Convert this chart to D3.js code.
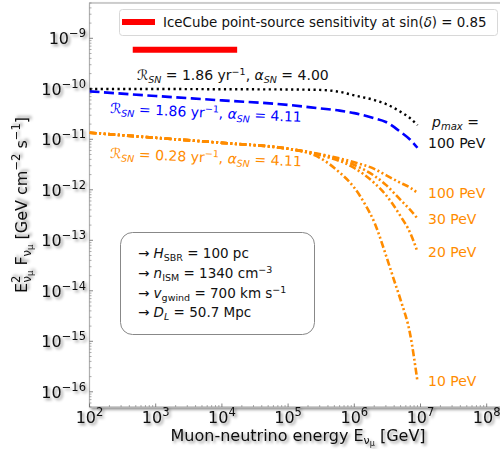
<!DOCTYPE html>
<html><head><meta charset="utf-8">
<script src="https://cdn.jsdelivr.net/npm/d3@7"></script>
<style>body{margin:0;background:#fff}svg{display:block;font-family:"DejaVu Sans",sans-serif}</style>
</head><body><svg id="c" width="500" height="449"></svg>
<script>
// ---------- data ----------
const xTicks = [1e2,1e3,1e4,1e5,1e6,1e7,1e8];
const xTickExp = ["2","3","4","5","6","7","8"];
const yTicks = [1e-9,1e-10,1e-11,1e-12,1e-13,1e-14,1e-15,1e-16];
const yTickExp = ["−9","−10","−11","−12","−13","−14","−15","−16"];

const iceE = [450, 1.7e4];
const iceF = [5.9e-10, 5.9e-10];

const blackE = [1e2,1e3,1e4,1e5,3e5,6e5,1e6,2e6,3e6,5e6,7e6,9e6];
const blackF = [9.9e-11,9.9e-11,9.8e-11,9.7e-11,9.5e-11,8.7e-11,7.4e-11,6.0e-11,5.0e-11,3.5e-11,2.6e-11,1.9e-11];

const blueE = [1e2,1e3,1e4,1e5,3e5,6e5,1e6,2e6,3e6,5e6,7e6,9e6];
const blueF = [8.9e-11,7.2e-11,5.9e-11,4.8e-11,4.1e-11,3.7e-11,3.3e-11,2.6e-11,2.2e-11,1.4e-11,9.8e-12,6.8e-12];

const orE = [1e2,1e3,1e4,1e5,3e5,1e6,2e6,3e6,5e6,7e6,9e6];
const or100F = [1.35e-11,1.07e-11,8.5e-12,6.5e-12,5.1e-12,3.5e-12,2.6e-12,1.95e-12,1.37e-12,1.1e-12,8.7e-13];
const or30F  = [1.35e-11,1.07e-11,8.5e-12,6.5e-12,5.0e-12,3.1e-12,1.9e-12,1.25e-12,6.3e-13,4.0e-13,2.7e-13];
const or20F  = [1.35e-11,1.07e-11,8.5e-12,6.5e-12,4.9e-12,2.7e-12,1.37e-12,7.9e-13,3.0e-13,1.4e-13,5.9e-14];
const or10E  = [1e2,1e3,1e4,1e5,3e5,6e5,1e6,1.5e6,2e6,3e6,4e6,5e6,7e6,9e6];
const or10F  = [1.35e-11,1.07e-11,8.5e-12,6.5e-12,4.3e-12,2.2e-12,1.1e-12,4.8e-13,2.3e-13,5.1e-14,1.6e-14,6.6e-15,1.35e-15,1.6e-16];

const pmaxLabels = ["100 PeV","30 PeV","20 PeV","10 PeV"];

// ---------- layout ----------
const L = 89.5, T = 3, B = 407;
const x = d3.scaleLog().domain([1e2, 2e8]).range([L, L + Math.log10(2e8/1e2)*66.2]);
const y = d3.scaleLog().domain([5e-17, 5e-9]).range([B, T]);
const R = x.range()[1];

const svg = d3.select("#c");
const defs = svg.append("defs");
const f = defs.append("filter").attr("id","sh").attr("x","-20%").attr("y","-20%").attr("width","140%").attr("height","140%");
f.append("feGaussianBlur").attr("in","SourceAlpha").attr("stdDeviation",1.4).attr("result","b");
f.append("feOffset").attr("in","b").attr("dx",1.8).attr("dy",1.8).attr("result","o");
f.append("feFlood").attr("flood-color","#000").attr("flood-opacity",0.45).attr("result","c");
f.append("feComposite").attr("in","c").attr("in2","o").attr("operator","in").attr("result","s");
const m = f.append("feMerge"); m.append("feMergeNode").attr("in","s"); m.append("feMergeNode").attr("in","SourceGraphic");
defs.append("clipPath").attr("id","clip").append("rect").attr("x",L).attr("y",T).attr("width",R-L).attr("height",B-T);

// axes background with shadow
svg.append("rect").attr("x",L).attr("y",T).attr("width",R-L).attr("height",B-T)
  .attr("fill","#fff").attr("stroke","#b0b0b0").attr("stroke-width",1.2).attr("filter","url(#sh)");

// rich text helper
function rich(sel, parts){
  let cur = 0;
  parts.forEach(p=>{
    const sh = p.sh||0;
    const t = sel.append("tspan").text(p.t).attr("dy", sh-cur);
    if(p.s) t.attr("font-size", p.s);
    if(p.it) t.attr("font-style","italic");
    if(p.dx) t.attr("dx", p.dx);
    cur = sh;
  });
  return sel;
}

// ticks
const g = svg.append("g");
const minorX = [];
for(let e=2;e<8;e++) for(let k=2;k<10;k++) minorX.push(k*Math.pow(10,e));
minorX.push(2e8);
g.selectAll(".mx").data(minorX).join("line").attr("x1",d=>x(d)).attr("x2",d=>x(d)).attr("y1",B).attr("y2",B-2).attr("stroke","#777").attr("stroke-width",0.6);
g.selectAll(".Mx").data(xTicks).join("line").attr("x1",d=>x(d)).attr("x2",d=>x(d)).attr("y1",B).attr("y2",B-3.5).attr("stroke","#666").attr("stroke-width",0.8);
const minorY = [];
for(let e=-17;e<-8;e++) for(let k=2;k<10;k++){const v=k*Math.pow(10,e); if(v>=5e-17&&v<=5e-9) minorY.push(v);}
g.selectAll(".my").data(minorY).join("line").attr("y1",d=>y(d)).attr("y2",d=>y(d)).attr("x1",L).attr("x2",L+2).attr("stroke","#777").attr("stroke-width",0.6);
g.selectAll(".My").data(yTicks).join("line").attr("y1",d=>y(d)).attr("y2",d=>y(d)).attr("x1",L).attr("x2",L+3.5).attr("stroke","#666").attr("stroke-width",0.8);

// tick labels
xTicks.forEach((v,i)=>{
  rich(svg.append("text").attr("x",x(v)).attr("y",423).attr("text-anchor","middle").attr("font-size",16).attr("fill","#111").attr("filter","url(#sh)"),
    [{t:"10"},{t:xTickExp[i],s:11.5,sh:-7}]);
});
yTicks.forEach((v,i)=>{
  rich(svg.append("text").attr("x",86).attr("y",y(v)+6).attr("text-anchor","end").attr("font-size",16).attr("fill","#111").attr("filter","url(#sh)"),
    [{t:"10"},{t:yTickExp[i],s:11.5,sh:-7}]);
});

// axis labels
rich(svg.append("text").attr("x",(L+R)/2).attr("y",441).attr("text-anchor","middle").attr("font-size",16).attr("fill","#111").attr("filter","url(#sh)"),
  [{t:"Muon-neutrino energy E"},{t:"ν",s:11,sh:3},{t:"μ",s:8,sh:4.5},{t:" [GeV]",sh:0}]);
rich(svg.append("text").attr("transform",`translate(27,${(T+B)/2}) rotate(-90)`).attr("text-anchor","middle").attr("font-size",16).attr("fill","#111").attr("filter","url(#sh)"),
  [{t:"E"},{t:"2",s:11.5,sh:-7},{t:"ν",s:11.5,sh:4,dx:-7},{t:"μ",s:8.5,sh:6},{t:" F",sh:0},{t:"ν",s:11.5,sh:4},{t:"μ",s:8.5,sh:6},{t:"  [GeV cm",sh:0},{t:"−2",s:11.5,sh:-7},{t:" s",sh:0},{t:"−1",s:11.5,sh:-7},{t:"]",sh:0}]);

// curves
const plot = svg.append("g").attr("clip-path","url(#clip)");
const line = d3.line().x(d=>x(d[0])).y(d=>y(d[1])).curve(d3.curveMonotoneX);
const zip = (a,b)=>a.map((v,i)=>[v,b[i]]);
plot.append("path").datum(zip(iceE,iceF)).attr("d",line).attr("stroke","#ff0000").attr("stroke-width",6).attr("fill","none");
const ddd = "7,2.6,2,2.6,2,2.6";
[[orE,or100F],[orE,or30F],[orE,or20F],[or10E,or10F]].forEach(s=>{
  plot.append("path").datum(zip(s[0],s[1])).attr("d",line).attr("stroke","#ff8c00").attr("stroke-width",2.6).attr("fill","none").attr("stroke-dasharray",ddd);
});
plot.append("path").datum(zip(blueE,blueF)).attr("d",line).attr("stroke","#0000ff").attr("stroke-width",2.6).attr("fill","none").attr("stroke-dasharray","10,4.5");
plot.append("path").datum(zip(blackE,blackF)).attr("d",line).attr("stroke","#000").attr("stroke-width",2.4).attr("fill","none").attr("stroke-dasharray","2.2,3.4");

// curve annotations
function snLabel(xp, yp, rot, color, rate, alpha){
  rich(svg.append("text").attr("transform",`translate(${xp},${yp}) rotate(${rot})`).attr("font-size",14).attr("fill",color),
    [{t:"ℛ",it:true},{t:"SN",s:9.5,sh:3,it:true},{t:" = "+rate+" yr",sh:0},{t:"−1",s:9.5,sh:-5.5},{t:", ",sh:0},{t:"α",it:true},{t:"SN",s:9.5,sh:3,it:true},{t:" = "+alpha,sh:0}]);
}
snLabel(137, 80, 0, "#111", "1.86", "4.00");
snLabel(110, 113, 2.7, "#0000ff", "1.86", "4.11");
snLabel(110, 158, 2.5, "#ff8c00", "0.28", "4.11");

rich(svg.append("text").attr("x",432).attr("y",127).attr("font-size",14).attr("fill","#111"),
  [{t:"p",it:true},{t:"max",s:10,sh:3,it:true},{t:" =",sh:0}]);
svg.append("text").attr("x",428).attr("y",148).attr("font-size",14).attr("fill","#111").text("100 PeV");
const pmaxEnds = [or100F[or100F.length-1], or30F[or30F.length-1], or20F[or20F.length-1], or10F[or10F.length-1]];
pmaxLabels.forEach((t,i)=>{
  svg.append("text").attr("x",428).attr("y",y(pmaxEnds[i])+5).attr("font-size",14).attr("fill","#ff8c00").text(t);
});

// legend
svg.append("rect").attr("x",119.5).attr("y",9.5).attr("width",378).attr("height",26).attr("rx",3).attr("fill","#fff").attr("fill-opacity",0.85).attr("stroke","#d8d8d8");
svg.append("line").attr("x1",122).attr("x2",155).attr("y1",22).attr("y2",22).attr("stroke","#ff0000").attr("stroke-width",6);
rich(svg.append("text").attr("x",163).attr("y",27).attr("font-size",13.4).attr("fill","#111"),
  [{t:"IceCube point-source sensitivity at sin("},{t:"δ",it:true},{t:") = 0.85"}]);

// parameter box
svg.append("rect").attr("x",120.5).attr("y",232.5).attr("width",194).attr("height",102).attr("rx",12).attr("fill","#fff").attr("stroke","#888").attr("stroke-width",1);
const bx = 138, by = [258,278,298,317];
rich(svg.append("text").attr("x",bx).attr("y",by[0]).attr("font-size",13.5).attr("fill","#111"),
  [{t:"→ "},{t:"H",it:true},{t:"SBR",s:9.5,sh:3},{t:" = 100 pc",sh:0}]);
rich(svg.append("text").attr("x",bx).attr("y",by[1]).attr("font-size",13.5).attr("fill","#111"),
  [{t:"→ "},{t:"n",it:true},{t:"ISM",s:9.5,sh:3},{t:" = 1340 cm",sh:0},{t:"−3",s:9.5,sh:-5.5}]);
rich(svg.append("text").attr("x",bx).attr("y",by[2]).attr("font-size",13.5).attr("fill","#111"),
  [{t:"→ "},{t:"v",it:true},{t:"gwind",s:9.5,sh:3},{t:" = 700 km s",sh:0},{t:"−1",s:9.5,sh:-5.5}]);
rich(svg.append("text").attr("x",bx).attr("y",by[3]).attr("font-size",13.5).attr("fill","#111"),
  [{t:"→ "},{t:"D",it:true},{t:"L",s:9.5,sh:3,it:true},{t:" = 50.7 Mpc",sh:0}]);
</script></body></html>
